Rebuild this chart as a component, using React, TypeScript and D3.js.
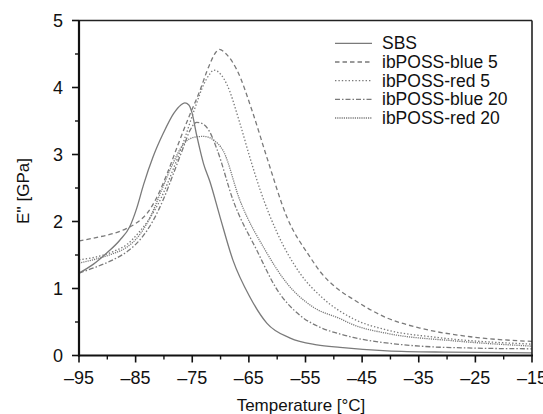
import React from "react";
import * as d3 from "d3";

const xTicks = [-95, -85, -75, -65, -55, -45, -35, -25, -15];
const yTicks = [0, 1, 2, 3, 4, 5];

const seriesNames = ["SBS", "ibPOSS-blue 5", "ibPOSS-red 5", "ibPOSS-blue 20", "ibPOSS-red 20"];

const sbs: [number, number][] = [
  [-95, 1.23], [-92.5, 1.36], [-90.1, 1.53], [-87.8, 1.72], [-86, 1.93], [-84.8, 2.2], [-83.6, 2.55],
  [-81.9, 2.97], [-80.1, 3.32], [-78.3, 3.61], [-77, 3.74], [-76.3, 3.77], [-75.6, 3.74],
  [-75.1, 3.64], [-74.2, 3.28], [-73, 2.86], [-71.9, 2.6], [-70.1, 2.07],
  [-67.8, 1.42], [-64.8, 0.87], [-61.8, 0.48], [-57.7, 0.26], [-53, 0.16], [-48.9, 0.12],
  [-40.6, 0.07], [-30, 0.05], [-15, 0.04],
];
const blue5: [number, number][] = [
  [-95, 1.71], [-92, 1.76], [-89, 1.82], [-87, 1.88], [-85, 1.97], [-83, 2.12], [-81.5, 2.32],
  [-79.5, 2.7], [-77.5, 3.15], [-75.5, 3.58], [-73.8, 3.92], [-72, 4.33], [-70.8, 4.53],
  [-70.2, 4.57], [-69, 4.5], [-67.1, 4.26], [-64.3, 3.62], [-61.8, 2.95], [-58.3, 2.07],
  [-54.2, 1.47], [-52.4, 1.25], [-49.4, 1.0], [-46.6, 0.84], [-40.6, 0.56], [-34.8, 0.41],
  [-25.9, 0.28], [-15, 0.21],
];
const red5: [number, number][] = [
  [-95, 1.43], [-92, 1.47], [-89, 1.55], [-86.5, 1.66], [-84.5, 1.83], [-82.5, 2.05], [-80.5, 2.35],
  [-78.5, 2.75], [-76.5, 3.2], [-74.5, 3.7], [-73, 4.04], [-72, 4.19], [-71.2, 4.26], [-70, 4.2],
  [-68.9, 4.05], [-66.6, 3.47], [-64.8, 2.95], [-63, 2.47], [-60, 1.83], [-56, 1.23],
  [-52, 0.86], [-46.6, 0.55], [-40.6, 0.38], [-31.8, 0.27], [-15, 0.17],
];
const blue20: [number, number][] = [
  [-95, 1.23], [-92, 1.32], [-89.2, 1.42], [-86.2, 1.57], [-84, 1.75], [-82, 2.0], [-80, 2.35],
  [-78.3, 2.72], [-76.6, 3.1], [-75.4, 3.36], [-74.2, 3.48], [-73, 3.45], [-72, 3.35], [-70.6, 3.07],
  [-67.8, 2.32], [-63.6, 1.57], [-60, 0.98], [-56, 0.6], [-52.4, 0.42], [-48.9, 0.32],
  [-46.6, 0.27], [-40, 0.18], [-34.8, 0.14], [-25, 0.11], [-15, 0.1],
];
const red20: [number, number][] = [
  [-95, 1.38], [-92, 1.44], [-89, 1.52], [-86.5, 1.62], [-84.5, 1.78], [-82.5, 2.05], [-80.5, 2.45],
  [-78.5, 2.85], [-76.6, 3.15], [-74.5, 3.26], [-73, 3.27], [-71.3, 3.22], [-69.5, 3.05],
  [-66.6, 2.32], [-62.1, 1.57], [-58.3, 1.08], [-53.6, 0.72], [-48.9, 0.55], [-46.6, 0.46],
  [-40.6, 0.33], [-29, 0.22], [-15, 0.14],
];

const seriesData = [sbs, blue5, red5, blue20, red20];
const seriesDash = ["none", "4.5,3", "1.4,2", "5,2,1.5,2", "1.2,1"];

export default function App() {
  const W = 543, H = 414;
  const left = 79, right = 532, top = 20.5, bottom = 355.5;
  const x = d3.scaleLinear().domain([-95, -15]).range([left, right]);
  const y = d3.scaleLinear().domain([0, 5]).range([bottom, top]);
  const line = d3.line<[number, number]>().x(d => x(d[0])).y(d => y(d[1])).curve(d3.curveMonotoneX);
  const xMinor = d3.range(-90, -15, 10);
  const yMinor = d3.range(0.5, 5, 1);
  const font = "Liberation Sans, Arial, sans-serif";
  const fmt = (v: number) => (v < 0 ? "\u2013" + Math.abs(v) : String(v));
  const legendY = [49.3, 68, 86.7, 105.4, 124];
  return (
    <svg width={W} height={H} style={{ position: "absolute", left: 0, top: 0, background: "#fff" }} fontFamily={font}>
      <rect x={0} y={0} width={W} height={H} fill="#fff" />
      {seriesData.map((d, i) => (
        <path key={i} d={line(d) || ""} fill="none" stroke="#7a7a7a" strokeWidth={1.3} strokeDasharray={seriesDash[i]} />
      ))}
      <line x1={left} x2={right} y1={top} y2={top} stroke="#222" strokeWidth={1.4} />
      <line x1={right} x2={right} y1={top} y2={bottom} stroke="#222" strokeWidth={1.6} />
      <line x1={left} x2={left} y1={top} y2={bottom + 1} stroke="#111" strokeWidth={2.2} />
      <line x1={left - 1} x2={right + 1} y1={bottom} y2={bottom} stroke="#111" strokeWidth={2.2} />
      {xTicks.map(t => (
        <g key={t}>
          <line x1={x(t)} x2={x(t)} y1={bottom} y2={bottom + 7} stroke="#111" strokeWidth={1.6} />
          <text x={x(t)} y={384} textAnchor="middle" fontSize={18} fill="#111">{fmt(t)}</text>
        </g>
      ))}
      {xMinor.map(t => (
        <line key={t} x1={x(t)} x2={x(t)} y1={bottom} y2={bottom + 4} stroke="#111" strokeWidth={1.4} />
      ))}
      {yTicks.map(t => (
        <g key={t}>
          <line x1={left - 7} x2={left} y1={y(t)} y2={y(t)} stroke="#111" strokeWidth={1.6} />
          <text x={63} y={y(t) + 6.5} textAnchor="end" fontSize={18} fill="#111">{fmt(t)}</text>
        </g>
      ))}
      {yMinor.map(t => (
        <line key={t} x1={left - 4} x2={left} y1={y(t)} y2={y(t)} stroke="#111" strokeWidth={1.4} />
      ))}
      <text x={301} y={411} textAnchor="middle" fontSize={17} fill="#111">Temperature [°C]</text>
      <text transform={`translate(29,${(top + bottom) / 2 + 3}) rotate(-90)`} textAnchor="middle" fontSize={17} fill="#111">E'' [GPa]</text>
      {seriesNames.map((n, i) => (
        <g key={n}>
          <line x1={335} x2={372} y1={legendY[i] - 6} y2={legendY[i] - 6} stroke="#7a7a7a" strokeWidth={1.3} strokeDasharray={seriesDash[i]} />
          <text x={382} y={legendY[i]} fontSize={17.5} fill="#111">{n}</text>
        </g>
      ))}
    </svg>
  );
}
